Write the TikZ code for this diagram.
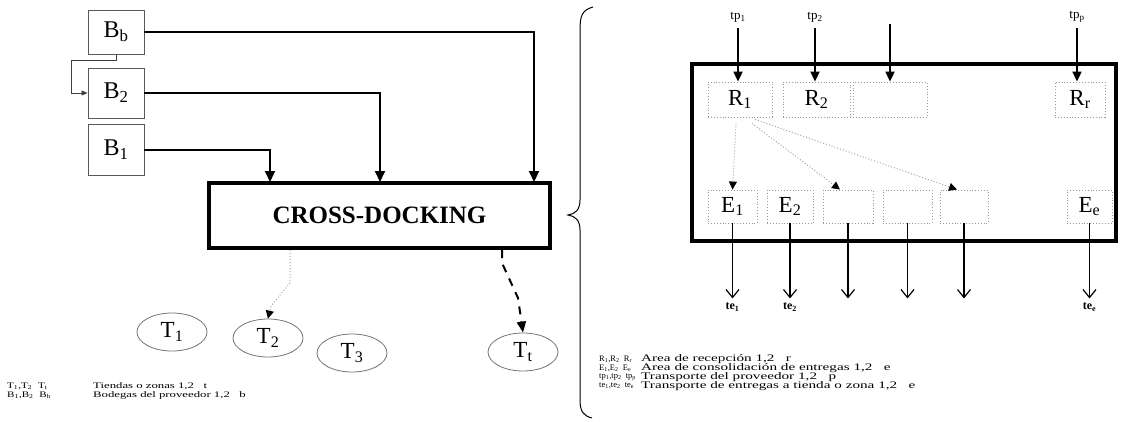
\documentclass[tikz,border=0pt]{standalone}
\usepackage{fontspec}
\setmainfont{Liberation Serif}
\usetikzlibrary{arrows.meta,shapes.geometric,calc}
\newcommand{\wideL}[1]{\scalebox{1.5}[1]{#1}}
\newcommand{\wideR}[1]{\scalebox{1.52}[1]{#1}}
\begin{document}
\begin{tikzpicture}[x=1pt,y=-1pt,
  bbox/.style={draw=black!65, line width=0.9pt, minimum width=56pt, inner sep=0pt, font=\fontsize{24}{24}\selectfont},
  cdbox/.style={draw=black, line width=3.2pt, minimum width=341pt, minimum height=65pt, inner sep=0pt, font=\bfseries\fontsize{25}{25}\selectfont},
  bigbox/.style={draw=black, line width=4pt, minimum width=424pt, minimum height=177pt, inner sep=0pt},
  tell/.style={ellipse, draw=black!55, line width=0.8pt, minimum width=70pt, minimum height=38pt, inner sep=0pt, font=\fontsize{23}{23}\selectfont},
  thickarrow/.style={line width=2pt, -{Triangle[length=11pt,width=10pt]}},
  toparrow/.style={line width=2pt, -{Triangle[length=10pt,width=9pt]}},
  botarrow/.style={line width=1.2pt, -{Straight Barb[length=8pt,width=13pt,line width=1.2pt]}},
  areabox/.style={draw=black!40, dotted, line width=0.9pt, minimum height=35pt, inner sep=0pt, font=\fontsize{23}{23}\selectfont},
  dotarrow/.style={draw=black!35, dotted, line width=1pt, -{Triangle[length=8pt,width=8pt,color=black]}},
  lbl/.style={inner sep=0pt, font=\fontsize{13}{13}\selectfont},
  telbl/.style={inner sep=0pt, font=\bfseries\fontsize{12}{12}\selectfont},
  legl/.style={inner sep=0pt, anchor=west, font=\fontsize{8.5}{8.5}\selectfont},
  legr/.style={inner sep=0pt, anchor=west, font=\fontsize{10}{10}\selectfont}
]
\useasboundingbox (0,0) rectangle (1122,421);

% ---------- left part ----------
\node[bbox, minimum height=44pt] (Bb) at (116,32) {B\textsubscript{b}};
\node[bbox, minimum height=50pt] (B2) at (116,93) {B\textsubscript{2}};
\node[bbox, minimum height=51pt] (B1) at (116,149.5) {B\textsubscript{1}};
\node[cdbox] (CD) at (379.5,215.5) {CROSS-DOCKING};

\coordinate (cdin1) at (270,182);
\coordinate (cdin2) at (380,182);
\coordinate (cdin3) at (534,182);
\draw[thickarrow] (B1.east) -| (cdin1);
\draw[thickarrow] (B2.east) -| (cdin2);
\draw[thickarrow] (Bb.east) -| (cdin3);

\coordinate (bl1) at (71,60);
\draw[line width=0.8pt, black!75, -{Triangle[length=6pt,width=5pt]}] (Bb.south) |- (bl1) |- (B2.west);

\node[tell] (T1) at (172,332) {T\textsubscript{1}};
\node[tell] (T2) at (268,338) {T\textsubscript{2}};
\node[tell] (T3) at (352,353) {T\textsubscript{3}};
\node[tell] (Tt) at (523,352) {T\textsubscript{t}};

\coordinate (cdo1) at (290,250);
\draw[dotarrow] (cdo1) -- (290,283) -- (271,306) -- (T2.north);
\coordinate (cdo2) at (502,250);
\draw[line width=2pt, dashed, dash pattern=on 8pt off 7pt, -{Triangle[length=11pt,width=9pt]}] (cdo2) -- (502,263) -- (518,298) -- (Tt.north);

\node[legl] (lt1) at (7,386) {\scalebox{1.3}[1]{T\textsubscript{1},T\textsubscript{2}\ \ T\textsubscript{t}}};
\node[legl] (lt2) at (93,386) {\wideL{Tiendas o zonas 1,2 \ \ t}};
\node[legl] (lb1) at (7,395) {\scalebox{1.3}[1]{B\textsubscript{1},B\textsubscript{2}\ \ B\textsubscript{b}}};
\node[legl] (lb2) at (93,395) {\wideL{Bodegas del proveedor 1,2 \ \ b}};

% ---------- brace ----------
\draw[line width=1pt] (593,7) .. controls (582,10) and (580,16) .. (580,30)
  -- (580,200) .. controls (580,210) and (575,214) .. (568,215)
  .. controls (575,216) and (580,220) .. (580,230)
  -- (580,400) .. controls (580,412) and (584,416) .. (592,418);

% ---------- right part ----------
\node[bigbox] (RB) at (904,152.5) {};

\node[areabox, minimum width=64pt] (R1) at (740,99.5) {R\textsubscript{1}};
\node[areabox, minimum width=67pt] (R2) at (816.5,99.5) {R\textsubscript{2}};
\node[areabox, minimum width=74pt] (R3) at (890,99.5) {};
\node[areabox, minimum width=50pt] (Rr) at (1080,99.5) {R\textsubscript{r}};

\node[areabox, minimum width=49pt, minimum height=33pt] (E1) at (732.5,206.5) {E\textsubscript{1}};
\node[areabox, minimum width=46pt, minimum height=33pt] (E2) at (790,206.5) {E\textsubscript{2}};
\node[areabox, minimum width=50pt, minimum height=33pt] (E3) at (848,206.5) {};
\node[areabox, minimum width=49pt, minimum height=33pt] (E4) at (907.5,206.5) {};
\node[areabox, minimum width=48pt, minimum height=33pt] (E5) at (964,206.5) {};
\node[areabox, minimum width=45pt, minimum height=33pt] (Ee) at (1089.5,206.5) {E\textsubscript{e}};

% supplier transport in
\coordinate (tp1) at (738,28);
\coordinate (tp2) at (815,28);
\coordinate (tp3) at (890,24);
\coordinate (tpr) at (1077,28);
\node[lbl] (tp1l) at (738,17) {tp\textsubscript{1}};
\node[lbl] (tp2l) at (815,17) {tp\textsubscript{2}};
\node[lbl] (tprl) at (1077,17) {tp\textsubscript{p}};
\draw[toparrow] (tp1) -- (tp1 |- R1.north);
\draw[toparrow] (tp2) -- (tp2 |- R2.north);
\draw[toparrow] (tp3) -- (R3.north);
\draw[toparrow] (tpr) -- (tpr |- Rr.north);

% internal flows
\draw[dotarrow] ($(R1.south)+(-4,6)$) -- (E1.north);
\draw[dotarrow] ($(R1.south)+(12,6)$) -- ($(E3.north)+(-8,0)$);
\draw[dotarrow] ($(R1.south)+(15,2)$) -- ($(E5.north)+(-7,0)$);

% delivery transport out
\path (E1.south) ++(0,75) coordinate (te1);
\path (E2.south) ++(0,75) coordinate (te2);
\path (E3.south) ++(0,75) coordinate (te3);
\path (E4.south) ++(0,75) coordinate (te4);
\path (E5.south) ++(0,75) coordinate (te5);
\path (Ee.south) ++(0,75) coordinate (tee);
\draw[botarrow] (E1.south) -- (te1);
\draw[botarrow] (E2.south) -- (te2);
\draw[botarrow] (E3.south) -- (te3);
\draw[botarrow] (E4.south) -- (te4);
\draw[botarrow] (E5.south) -- (te5);
\draw[botarrow] (Ee.south) -- (tee);
\node[telbl, anchor=north] (te1l) at ($(te1)+(0,4)$) {te\textsubscript{1}};
\node[telbl, anchor=north] (te2l) at ($(te2)+(0,4)$) {te\textsubscript{2}};
\node[telbl, anchor=north] (teel) at ($(tee)+(0,4)$) {te\textsubscript{e}};

% right legend
\node[legl] (lr1) at (599,359) {R\textsubscript{1},R\textsubscript{2}\ \ R\textsubscript{r}};
\node[legr] (lr2) at (641,359) {\wideR{Area de recepción 1,2 \ \ r}};
\node[legl] (le1) at (599,368) {E\textsubscript{1},E\textsubscript{2}\ \ E\textsubscript{e}};
\node[legr] (le2) at (641,368) {\wideR{Area de consolidación de entregas 1,2 \ \ e}};
\node[legl] (lp1) at (599,377) {tp\textsubscript{1},tp\textsubscript{2}\ \ tp\textsubscript{p}};
\node[legr] (lp2) at (641,377) {\wideR{Transporte del proveedor 1,2 \ \ p}};
\node[legl] (lq1) at (599,386) {te\textsubscript{1},te\textsubscript{2}\ \ te\textsubscript{e}};
\node[legr] (lq2) at (641,386) {\wideR{Transporte de entregas a tienda o zona 1,2 \ \ e}};
\end{tikzpicture}
\end{document}
